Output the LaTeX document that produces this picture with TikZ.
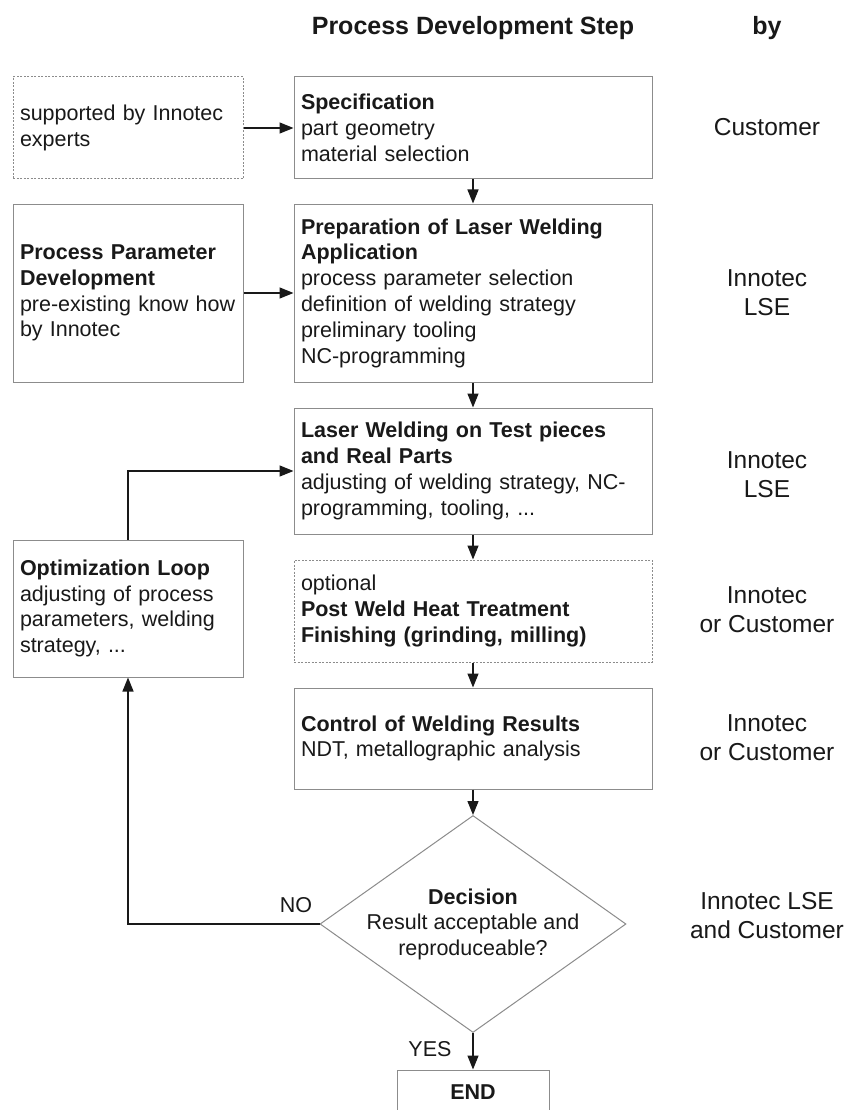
\documentclass[tikz,border=0pt]{standalone}
\usepackage{fontspec}
\setmainfont{Liberation Sans}
\usetikzlibrary{arrows.meta,shapes.geometric}
\definecolor{boxgray}{RGB}{140,140,140}
\definecolor{ink}{RGB}{25,25,25}
\begin{document}
\begin{tikzpicture}[x=1pt,y=-1pt,
  every node/.style={text=ink},
  txt/.style={font=\fontsize{21.5}{25.8}\selectfont},
  box/.style={draw=boxgray, line width=1pt, txt, align=left, inner xsep=7pt, inner ysep=0pt},
  mainbox/.style={box, text width=344pt},
  sidebox/.style={box, text width=216pt},
  dashbox/.style={dash pattern=on 2pt off 1.5pt},
  whoby/.style={font=\fontsize{24.5}{29}\selectfont, align=center},
  head/.style={font=\fontsize{25}{30}\selectfont\bfseries},
  arr/.style={draw=ink, line width=1.3pt, -{Triangle[length=14pt,width=11pt]}}]

\useasboundingbox (0,0) rectangle (854,1110);
\fill[white] (0,0) rectangle (854,1110);

% headers
\node[head] (hstep) at (473,28) {Process Development Step};
\node[head] (hby) at (767,28) {by};

% left column
\node[sidebox, dashbox, minimum height=102pt] (sup) at (128,128) {supported by Innotec\\experts};
\node[sidebox, minimum height=178pt] (ppd) at (128,293) {\textbf{Process Parameter}\\\textbf{Development}\\pre-existing know how\\by Innotec};
\node[sidebox, minimum height=137pt] (loop) at (128,608.5) {\textbf{Optimization Loop}\\adjusting of process\\parameters, welding\\strategy, ...};

% main column
\node[mainbox, minimum height=102pt] (spec) at (473,128) {\textbf{Specification}\\part geometry\\material selection};
\node[mainbox, minimum height=178pt] (prep) at (473,293) {\textbf{Preparation of Laser Welding}\\\textbf{Application}\\process parameter selection\\definition of welding strategy\\preliminary tooling\\NC-programming};
\node[mainbox, minimum height=126pt] (laser) at (473,471) {\textbf{Laser Welding on Test pieces}\\\textbf{and Real Parts}\\adjusting of welding strategy, NC-\\programming, tooling, ...};
\node[mainbox, dashbox, minimum height=102pt] (optn) at (473,611) {optional\\\textbf{Post Weld Heat Treatment}\\\textbf{Finishing (grinding, milling)}};
\node[mainbox, minimum height=101pt] (ctrl) at (473,738.5) {\textbf{Control of Welding Results}\\NDT, metallographic analysis};
\node[diamond, draw=boxgray, line width=1pt, minimum width=306pt, minimum height=217pt, inner sep=0pt] (dec) at (473,924) {};
\node[txt, align=center, font=\fontsize{21.5}{25.5}\selectfont] (dectext) at (473,924) {\textbf{Decision}\\Result acceptable and\\reproduceable?};
\node[draw=boxgray, line width=1pt, minimum width=152pt, minimum height=44pt, font=\fontsize{21.5}{25.8}\selectfont\bfseries] (end) at (473,1092) {END};

% right column
\node[whoby] (by1) at (767,127) {Customer};
\node[whoby] (by2) at (767,292.5) {Innotec\\LSE};
\node[whoby] (by3) at (767,475) {Innotec\\LSE};
\node[whoby] (by4) at (767,610) {Innotec\\or Customer};
\node[whoby] (by5) at (767,738) {Innotec\\or Customer};
\node[whoby] (by6) at (767,916) {Innotec LSE\\and Customer};

% connectors
\draw[arr] (sup.east) -- (spec.west);
\draw[arr] (spec.south) -- (prep.north);
\draw[arr] (ppd.east) -- (prep.west);
\draw[arr] (prep.south) -- (laser.north);
\draw[arr] (laser.south) -- (optn.north);
\draw[arr] (optn.south) -- (ctrl.north);
\draw[arr] (ctrl.south) -- (dec.north);
\draw[arr] (dec.south) -- (end.north);
\draw[arr] (dec.west) -| (loop.south);
\draw[arr] (loop.north) |- (laser.west);

\node[txt] (no) at (296,905) {NO};
\node[txt] (yes) at (430,1049) {YES};
\end{tikzpicture}
\end{document}
